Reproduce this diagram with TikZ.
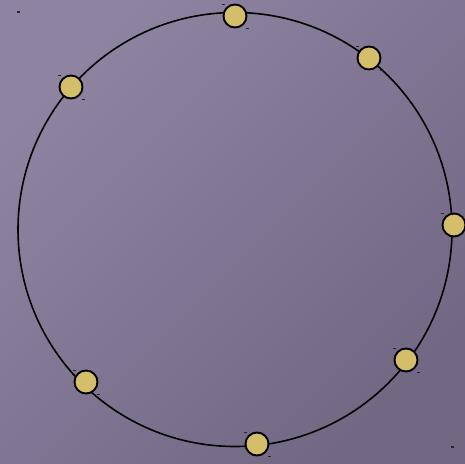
\documentclass[tikz,border=0pt]{standalone}
\usetikzlibrary{calc}
\definecolor{bgA}{RGB}{142,132,162}
\definecolor{bgB}{RGB}{114,104,132}
\definecolor{nodefill}{RGB}{212,190,108}
\tikzset{
  px/.style={x=1pt,y=-1pt},
  ringnode/.style={circle,draw=black,line width=1.9pt,fill=nodefill,minimum size=23pt,inner sep=0pt},
  ring/.style={draw=black,line width=1.6pt},
  tick/.style={fill=black!85,draw=none}
}
\begin{document}
\begin{tikzpicture}[px]
\useasboundingbox (0,0) rectangle (465,463);
\shade[left color=bgA,right color=bgB,shading angle=45] (0,0) rectangle (465,463);
\coordinate (c) at (235,229.5);
\draw[ring] (c) circle[radius=217];
\foreach \n/\x/\y in {a/235/16, b/369/58, c3/454/225, d/406/360, e/257/444, f/86/382, g/71/87}{
  \node[ringnode] (\n) at (\x,\y) {};
  \fill[tick] ($(\n)+(-13,-12.5)$) rectangle ++(3,1.8);
  \fill[tick] ($(\n)+(11,11.5)$) rectangle ++(3,1.8);
}
\coordinate (tl) at (17,11);
\coordinate (br) at (451,446);
\fill[tick] (tl) rectangle ++(3,1.8);
\fill[tick] (br) rectangle ++(3,1.8);
\end{tikzpicture}
\end{document}
